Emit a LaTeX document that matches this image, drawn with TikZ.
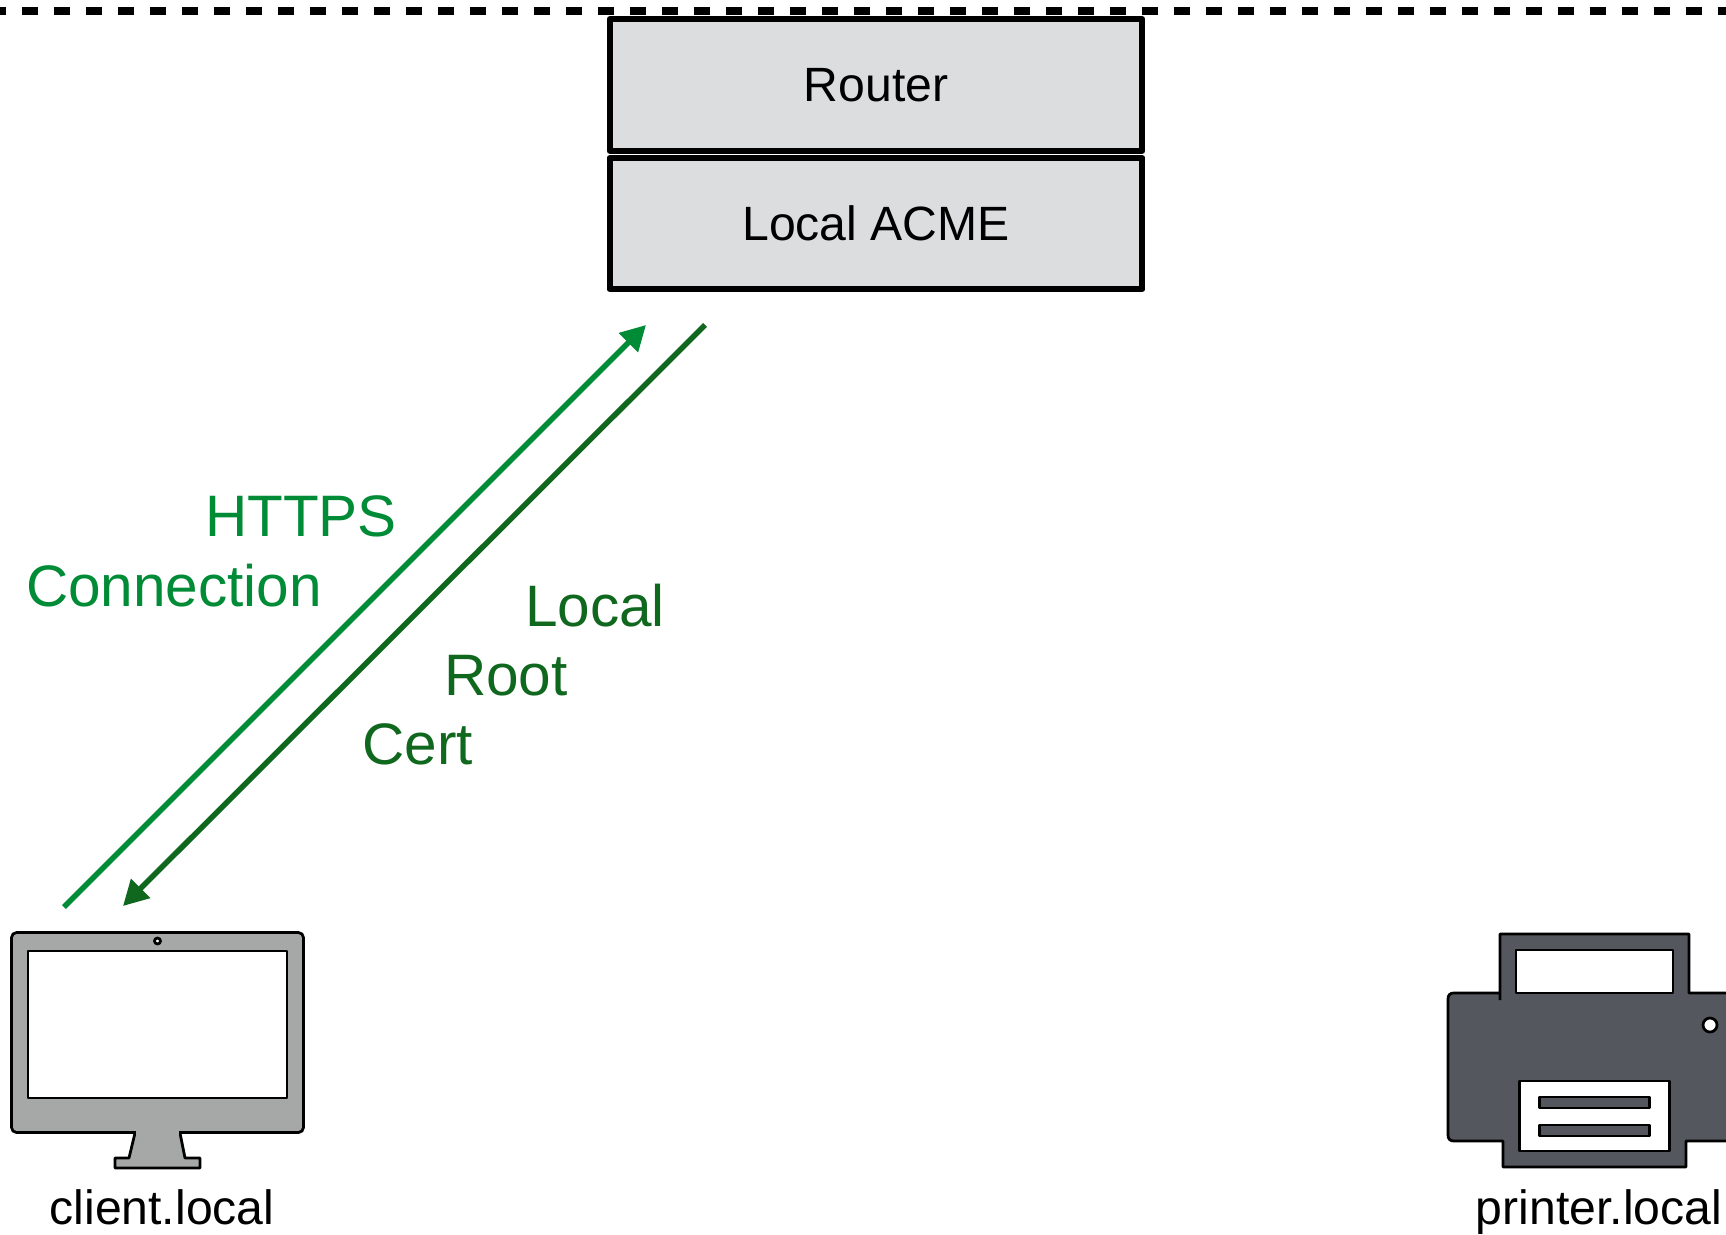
\documentclass[tikz,border=0pt]{standalone}
\usepackage{fontspec}
\setmainfont{Liberation Sans}
\usetikzlibrary{arrows.meta}
\definecolor{boxgray}{HTML}{DCDDDF}
\definecolor{monitorgray}{HTML}{A6A8A7}
\definecolor{printergray}{HTML}{54575D}
\definecolor{httpsgreen}{HTML}{008B37}
\definecolor{certgreen}{HTML}{10681F}
\tikzset{
  layerbox/.style={rectangle, draw, line width=1.2mm, line join=round, fill=boxgray, minimum width=10.66cm, minimum height=2.63cm, inner sep=0pt, font=\fontsize{27.4}{32}\selectfont},
  hostlabel/.style={inner sep=0pt, anchor=base, font=\fontsize{27.4}{32}\selectfont},
  flowlabel/.style={inner sep=0pt, font=\fontsize{33.3}{40}\selectfont},
  icon/.style={draw, line width=0.55mm, line join=round},
  flow/.style={line width=1.1mm, -{Triangle[length=5mm, width=5.2mm]}},
}
\begin{document}
\begin{tikzpicture}[x=0.02cm, y=-0.02cm]
      \clip (0,0) rectangle (1726,1234);
      \fill[white] (0,0) rectangle (1726,1234);

      % Boundary
      \coordinate (edgeleft) at (-10, 10.7);
      \coordinate (edgeright) at (1726, 10.7);
      \draw[line width=1.6mm, dash pattern=on 0.32cm off 0.32cm] (edgeleft) -- (edgeright);

      % Nodes
      \node[layerbox] at (876, 85) (router) {Router};
      \node[layerbox] at (876, 223.5) (acme) {Local ACME};

      % Monitor
      \draw[icon, fill=monitorgray] (135,1133) -- (129,1158) -- (115,1158) -- (115,1168) -- (200,1168) -- (200,1158) -- (185,1158) -- (180,1133) -- cycle;
      \node[icon, fill=monitorgray, rounded corners=1mm, minimum width=5.84cm, minimum height=4.0cm, inner sep=0pt] at (157.5, 1032.5) (client) {};
      \fill[monitorgray] (136,1130) rectangle (179,1136);
      \node[icon, fill=white, minimum width=5.18cm, minimum height=2.94cm, inner sep=0pt] at (157.5, 1024.5) (screen) {};
      \node[icon, circle, fill=white, minimum size=0.12cm, inner sep=0pt] at (157.5, 941) (camera) {};
      \node[hostlabel] at (162, 1224) (clientlabel) {client.local};

      % Printer
      \draw[icon, fill=printergray] (1500,1000) -- (1500,934) -- (1689,934) -- (1689,993) -- (1740,993) -- (1740,1141) -- (1686,1141) -- (1686,1167) -- (1503,1167) -- (1503,1141) -- (1454,1141) .. controls (1450,1141) and (1448,1139) .. (1448,1135) -- (1448,999) .. controls (1448,995) and (1450,993) .. (1454,993) -- (1500,993);
      \node[icon, fill=white, minimum width=3.14cm, minimum height=0.86cm, inner sep=0pt] at (1594.5, 971.5) (tray) {};
      \node[icon, circle, fill=white, minimum size=0.28cm, inner sep=0pt] at (1710, 1025) (led) {};
      \node[icon, fill=white, minimum width=3.0cm, minimum height=1.4cm, inner sep=0pt] at (1594.5, 1116) (paper) {};
      \node[icon, fill=printergray, minimum width=2.2cm, minimum height=0.22cm, inner sep=0pt] at (1594.5, 1102.5) (lineone) {};
      \node[icon, fill=printergray, minimum width=2.2cm, minimum height=0.22cm, inner sep=0pt] at (1594.5, 1130.5) (linetwo) {};
      \node[hostlabel] at (1599, 1224) (printerlabel) {printer.local};

      % Flows
      \coordinate (httpsfrom) at (64, 907);
      \coordinate (httpsto) at (646, 325);
      \coordinate (certfrom) at (705, 325);
      \coordinate (certto) at (123, 906);
      \draw[flow, httpsgreen] (httpsfrom) -- (httpsto);
      \draw[flow, certgreen] (certfrom) -- (certto);

      \node[flowlabel, text=httpsgreen] at (301, 516) (https) {HTTPS};
      \node[flowlabel, text=httpsgreen] at (174, 586) (connection) {Connection};
      \node[flowlabel, text=certgreen] at (595, 606) (local) {Local};
      \node[flowlabel, text=certgreen] at (506, 676) (root) {Root};
      \node[flowlabel, text=certgreen] at (418, 744.5) (cert) {Cert};
    \end{tikzpicture}
\end{document}
